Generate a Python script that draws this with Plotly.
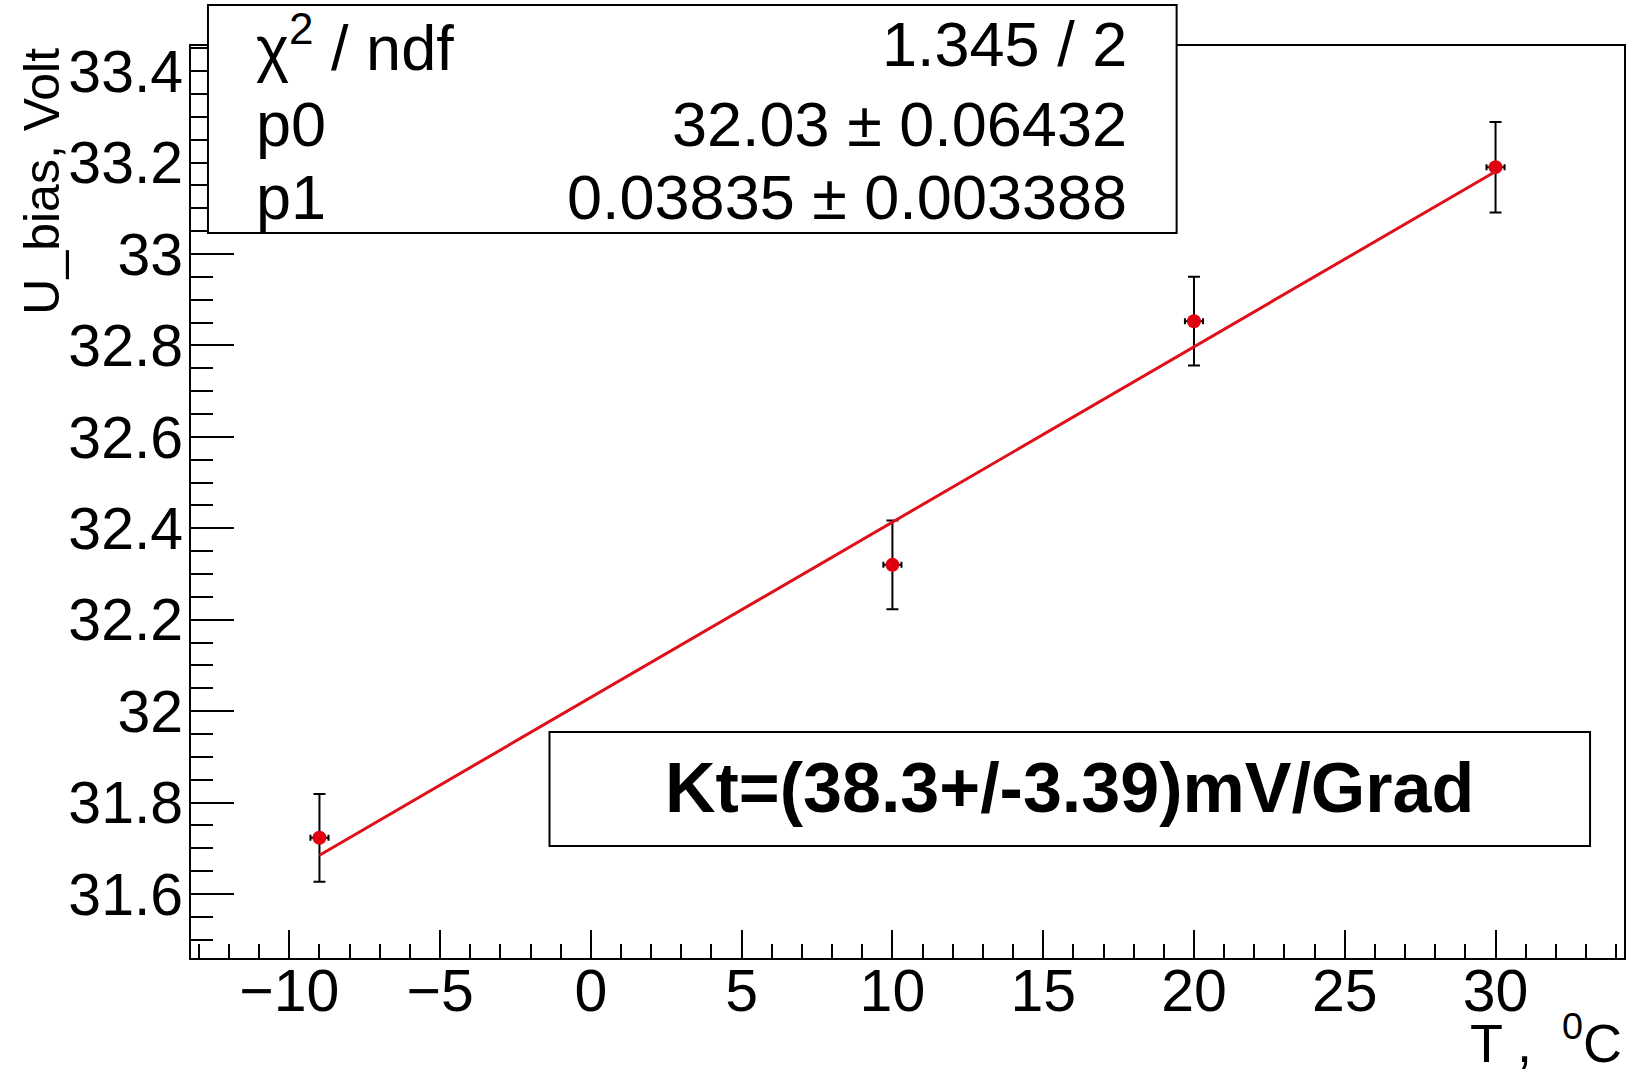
import plotly.graph_objects as go

# ---- data ----
T = [-9, 10, 20, 30]
T_err = [0.3, 0.3, 0.3, 0.3]
U = [31.723, 32.32, 32.853, 33.19]
U_err = [0.096, 0.097, 0.097, 0.099]

fit_p0 = 32.03
fit_p1 = 0.03835
fit_range = [-9, 30]

x_tickvals = [-10, -5, 0, 5, 10, 15, 20, 25, 30]
x_ticktext = ["\u221210", "\u22125", "0", "5", "10", "15", "20", "25", "30"]
y_tickvals = [31.6, 31.8, 32.0, 32.2, 32.4, 32.6, 32.8, 33.0, 33.2, 33.4]
y_ticktext = ["31.6", "31.8", "32", "32.2", "32.4", "32.6", "32.8", "33", "33.2", "33.4"]

stats_labels = ["\u03c7<sup>2</sup> / ndf", "p0", "p1"]
stats_values = ["1.345 / 2", "32.03 \u00b1 0.06432", "0.03835 \u00b1 0.003388"]
kt_text = "Kt=(38.3+/-3.39)mV/Grad"

x_title = "T ,  <sup>0</sup>C"
y_title = "U_bias, Volt"

# ---- layout geometry (pixels) ----
W, H = 1637, 1075
L, R, TOP, B = 191, 11, 46, 117
PW = W - L - R
PH = H - TOP - B


def px(x):
    return (x - L) / PW


def py(y):
    return (H - B - y) / PH


FONT = "Liberation Sans, Arial, Helvetica, sans-serif"

fig = go.Figure()

fig.add_trace(go.Scatter(
    x=T, y=U, mode="markers",
    marker=dict(color="#e00010", size=14, symbol="circle"),
    error_y=dict(type="data", array=U_err, visible=True, color="black", thickness=2, width=6),
    error_x=dict(type="data", array=T_err, visible=True, color="black", thickness=2, width=3),
    showlegend=False, hoverinfo="x+y",
))

fit_x = list(fit_range)
fit_y = [fit_p0 + fit_p1 * v for v in fit_x]
fig.add_trace(go.Scatter(
    x=fit_x, y=fit_y, mode="lines",
    line=dict(color="#e0101a", width=3),
    showlegend=False, hoverinfo="skip",
))

axis_common = dict(
    showline=True, linecolor="black", linewidth=2, mirror=True,
    ticks="inside", tickcolor="black", tickwidth=2,
    showgrid=False, zeroline=False,
    tickfont=dict(family=FONT, size=59, color="black"),
    tickmode="array",
)

fig.update_xaxes(
    range=[-13.26, 34.26], tickvals=x_tickvals, ticktext=x_ticktext,
    ticklen=28, ticklabelstandoff=-20,
    minor=dict(ticks="inside", ticklen=14, tickwidth=2, tickcolor="black", tick0=0, dtick=1),
    **axis_common,
)
fig.update_yaxes(
    range=[31.46, 33.455], tickvals=y_tickvals, ticktext=y_ticktext,
    ticklen=43, ticklabelstandoff=-6,
    minor=dict(ticks="inside", ticklen=22, tickwidth=2, tickcolor="black", tick0=31.6, dtick=0.05),
    **axis_common,
)

shapes = [
    # stats box
    dict(type="rect", xref="paper", yref="paper",
         x0=px(208), x1=px(1178), y0=py(233), y1=py(5),
         line=dict(color="black", width=2), fillcolor="white", layer="above"),
    # Kt box
    dict(type="rect", xref="paper", yref="paper",
         x0=px(550), x1=px(1592), y0=py(846), y1=py(732),
         line=dict(color="black", width=2), fillcolor="white", layer="above"),
]

annotations = []
row_y = [44, 124, 197]
for lab, val, yy in zip(stats_labels, stats_values, row_y):
    annotations.append(dict(
        text=lab, xref="paper", yref="paper", x=px(254), y=py(yy),
        xanchor="left", yanchor="middle", showarrow=False,
        font=dict(family=FONT, size=63, color="black")))
    annotations.append(dict(
        text=val, xref="paper", yref="paper", x=px(1130), y=py(yy),
        xanchor="right", yanchor="middle", showarrow=False,
        font=dict(family=FONT, size=63, color="black")))

annotations.append(dict(
    text="<b>" + kt_text + "</b>", xref="paper", yref="paper", x=px(1071), y=py(788),
    xanchor="center", yanchor="middle", showarrow=False,
    font=dict(family=FONT, size=70, color="black")))

annotations.append(dict(
    text=x_title, xref="paper", yref="paper", x=px(1626), y=py(1075),
    xanchor="right", yanchor="bottom", showarrow=False,
    font=dict(family=FONT, size=54, color="black")))

annotations.append(dict(
    text=y_title, xref="paper", yref="paper", x=px(41), y=py(46),
    xanchor="center", yanchor="top", textangle=-90, showarrow=False,
    font=dict(family=FONT, size=50, color="black")))

fig.update_layout(
    width=W, height=H,
    margin=dict(l=L, r=R, t=TOP, b=B, pad=0),
    paper_bgcolor="white", plot_bgcolor="white",
    shapes=shapes, annotations=annotations,
    font=dict(family=FONT, color="black"),
)

fig.write_html("out.html", config={"displayModeBar": False},
               post_script="document.body.style.margin='0';")
